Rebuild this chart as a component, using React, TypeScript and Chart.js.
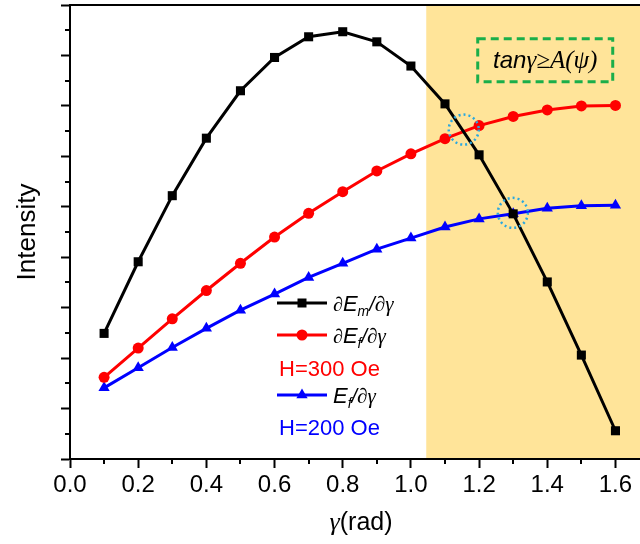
import React, { useEffect, useRef } from 'react';
import { Chart, registerables } from 'chart.js';

Chart.register(...registerables);

// ---- data ----
const gamma = [0.1, 0.2, 0.3, 0.4, 0.5, 0.6, 0.7, 0.8, 0.9, 1.0, 1.1, 1.2, 1.3, 1.4, 1.5, 1.6];
const emValues = [2.49, 3.91, 5.22, 6.36, 7.30, 7.96, 8.37, 8.47, 8.27, 7.79, 7.04, 6.03, 4.86, 3.51, 2.06, 0.56];
const ef300Values = [1.62, 2.20, 2.78, 3.34, 3.88, 4.40, 4.87, 5.30, 5.71, 6.05, 6.35, 6.61, 6.79, 6.92, 7.00, 7.01];
const ef200Values = [1.41, 1.81, 2.21, 2.59, 2.95, 3.27, 3.60, 3.88, 4.16, 4.38, 4.60, 4.76, 4.86, 4.97, 5.02, 5.03];

const xMin = 0;
const xMax = 1.672;
const yMin = 0;
const yMax = 9;
const shadeStart = 1.045;
const boxX = [1.196, 1.592];
const boxY = [7.48, 8.33];
const crossX = [1.155, 1.299];
const crossY = [6.53, 4.88];

const SANS = "'Liberation Sans', Arial, sans-serif";
const SERIF = "'Liberation Serif', 'Times New Roman', serif";

const toPoints = (ys: number[]) => gamma.map((g, i) => ({ x: g, y: ys[i] }));

const isMajorX = (v: number) => Math.round(v * 10) % 2 === 0;
const isMajorY = (v: number) => Math.round(v * 2) % 2 === 0;

type Seg = { t: string; font: string; dy?: number };

function drawSegs(ctx: CanvasRenderingContext2D, x: number, y: number, segs: Seg[], color: string) {
  ctx.save();
  ctx.fillStyle = color;
  ctx.textBaseline = 'alphabetic';
  ctx.textAlign = 'left';
  let cx = x;
  for (const s of segs) {
    ctx.font = s.font;
    ctx.fillText(s.t, cx, y + (s.dy || 0));
    cx += ctx.measureText(s.t).width;
  }
  ctx.restore();
}

function segsWidth(ctx: CanvasRenderingContext2D, segs: Seg[]) {
  let w = 0;
  ctx.save();
  for (const s of segs) {
    ctx.font = s.font;
    w += ctx.measureText(s.t).width;
  }
  ctx.restore();
  return w;
}

function marker(ctx: CanvasRenderingContext2D, kind: string, x: number, y: number, color: string) {
  ctx.save();
  ctx.fillStyle = color;
  ctx.beginPath();
  if (kind === 'rect') {
    ctx.rect(x - 4.5, y - 4.5, 9, 9);
  } else if (kind === 'circle') {
    ctx.arc(x, y, 5.5, 0, Math.PI * 2);
  } else {
    const r = 6.5;
    ctx.moveTo(x, y - r);
    ctx.lineTo(x + r * Math.sin((2 * Math.PI) / 3), y + r * 0.5);
    ctx.lineTo(x - r * Math.sin((2 * Math.PI) / 3), y + r * 0.5);
    ctx.closePath();
  }
  ctx.fill();
  ctx.restore();
}

const overlayPlugin = {
  id: 'overlay',
  beforeDraw(chart: any) {
    const { ctx, chartArea, scales } = chart;
    const x0 = scales.x.getPixelForValue(shadeStart);
    ctx.save();
    ctx.fillStyle = '#FFE499';
    ctx.fillRect(x0, chartArea.top, chart.width - x0, chartArea.bottom - chartArea.top);
    ctx.restore();
  },
  afterDatasetsDraw(chart: any) {
    const { ctx, chartArea, scales } = chart;
    const xs = scales.x;
    const ys = scales.y;
    ctx.save();
    // top frame line
    ctx.strokeStyle = '#000';
    ctx.lineWidth = 2;
    ctx.beginPath();
    ctx.moveTo(chartArea.left, chartArea.top);
    ctx.lineTo(chart.width, chartArea.top);
    ctx.stroke();

    // minor ticks
    ctx.lineWidth = 2;
    for (const t of xs.ticks) {
      if (!isMajorX(t.value)) {
        const px = Math.round(xs.getPixelForValue(t.value));
        ctx.beginPath();
        ctx.moveTo(px, chartArea.bottom);
        ctx.lineTo(px, chartArea.bottom + 5);
        ctx.stroke();
      }
    }
    for (const t of ys.ticks) {
      if (!isMajorY(t.value)) {
        const py = Math.round(ys.getPixelForValue(t.value));
        ctx.beginPath();
        ctx.moveTo(chartArea.left - 5, py);
        ctx.lineTo(chartArea.left, py);
        ctx.stroke();
      }
    }

    // dashed green box
    const bx0 = xs.getPixelForValue(boxX[0]);
    const bx1 = xs.getPixelForValue(boxX[1]);
    const by0 = ys.getPixelForValue(boxY[1]);
    const by1 = ys.getPixelForValue(boxY[0]);
    ctx.strokeStyle = '#1AAE4A';
    ctx.lineWidth = 3;
    ctx.setLineDash([8, 5]);
    ctx.strokeRect(bx0, by0, bx1 - bx0, by1 - by0);
    ctx.setLineDash([]);
    const formula: Seg[] = [
      { t: 'tan', font: `italic 24px ${SANS}` },
      { t: 'γ≥A(ψ)', font: `italic 25px ${SERIF}` },
    ];
    const fw = segsWidth(ctx, formula);
    drawSegs(ctx, (bx0 + bx1) / 2 - fw / 2, (by0 + by1) / 2 + 8, formula, '#000');

    // dotted cyan circles
    ctx.strokeStyle = '#2AA8E0';
    ctx.lineWidth = 2.5;
    ctx.setLineDash([2, 3]);
    for (let i = 0; i < crossX.length; i++) {
      ctx.beginPath();
      ctx.arc(xs.getPixelForValue(crossX[i]), ys.getPixelForValue(crossY[i]), 15, 0, Math.PI * 2);
      ctx.stroke();
    }
    ctx.setLineDash([]);

    // legend
    const lx0 = 277;
    const lx1 = 327;
    const tx = 333;
    const rows = [
      { y: 303, color: '#000', kind: 'rect', sub: 'm', pre: '∂' },
      { y: 335, color: '#FF0000', kind: 'circle', sub: 'f', pre: '∂' },
      { y: 395, color: '#0000FF', kind: 'triangle', sub: 'f', pre: '' },
    ];
    for (const r of rows) {
      ctx.strokeStyle = r.color;
      ctx.lineWidth = 3;
      ctx.beginPath();
      ctx.moveTo(lx0, r.y);
      ctx.lineTo(lx1, r.y);
      ctx.stroke();
      marker(ctx, r.kind, (lx0 + lx1) / 2, r.y, r.color);
      const segs: Seg[] = [];
      if (r.pre) segs.push({ t: r.pre, font: `italic 20px ${SERIF}` });
      segs.push({ t: 'E', font: `italic 22px ${SANS}` });
      segs.push({ t: r.sub, font: `italic 14px ${SANS}`, dy: 5 });
      segs.push({ t: '/', font: `italic 20px ${SANS}` });
      segs.push({ t: '∂γ', font: `italic 21px ${SERIF}` });
      drawSegs(ctx, tx, r.y + 8, segs, '#000');
    }
    drawSegs(ctx, 279, 376, [{ t: 'H=300 Oe', font: `22px ${SANS}` }], '#FF0000');
    drawSegs(ctx, 279, 435, [{ t: 'H=200 Oe', font: `22px ${SANS}` }], '#0000FF');

    // x axis title
    const title: Seg[] = [
      { t: 'γ', font: `italic 26px ${SERIF}` },
      { t: '(rad)', font: `25px ${SANS}` },
    ];
    const tw = segsWidth(ctx, title);
    const cx = (chartArea.left + chartArea.right) / 2 + 6;
    drawSegs(ctx, cx - tw / 2, 530, title, '#000');
    ctx.restore();
  },
};

export default function App() {
  const canvasRef = useRef<HTMLCanvasElement | null>(null);

  useEffect(() => {
    const canvas = canvasRef.current;
    if (!canvas) return;
    const chart = new Chart(canvas, {
      type: 'line',
      data: {
        datasets: [
          {
            label: 'dEm',
            data: toPoints(emValues),
            borderColor: '#000000',
            backgroundColor: '#000000',
            borderWidth: 3,
            pointStyle: 'rect',
            pointRadius: 6.4,
            pointBorderWidth: 0,
            tension: 0,
          },
          {
            label: 'dEf300',
            data: toPoints(ef300Values),
            borderColor: '#FF0000',
            backgroundColor: '#FF0000',
            borderWidth: 3,
            pointStyle: 'circle',
            pointRadius: 5.5,
            pointBorderWidth: 0,
            tension: 0,
          },
          {
            label: 'dEf200',
            data: toPoints(ef200Values),
            borderColor: '#0000FF',
            backgroundColor: '#0000FF',
            borderWidth: 3,
            pointStyle: 'triangle',
            pointRadius: 6.5,
            pointBorderWidth: 0,
            tension: 0,
          },
        ],
      },
      options: {
        responsive: false,
        animation: false,
        devicePixelRatio: 1,
        layout: { autoPadding: false, padding: { top: 5, right: 0, left: 0, bottom: 0 } },
        plugins: {
          legend: { display: false },
          tooltip: { enabled: false },
        },
        scales: {
          x: {
            type: 'linear',
            position: 'bottom',
            min: xMin,
            max: xMax,
            afterFit: (s: any) => {
              s.height = 85;
              s.paddingLeft = 0;
              s.paddingRight = 0;
            },
            border: { color: '#000', width: 2 },
            grid: {
              drawOnChartArea: false,
              drawTicks: true,
              tickLength: 9,
              tickWidth: 2,
              tickColor: (c: any) => (c.tick && isMajorX(c.tick.value) ? '#000' : 'rgba(0,0,0,0)'),
            },
            ticks: {
              stepSize: 0.1,
              includeBounds: false,
              autoSkip: false,
              maxRotation: 0,
              minRotation: 0,
              padding: 3,
              color: '#000',
              font: { size: 24, family: SANS },
              callback: (v: any) => (isMajorX(Number(v)) ? Number(v).toFixed(1) : ''),
            },
          },
          y: {
            type: 'linear',
            min: yMin,
            max: yMax,
            afterFit: (s: any) => {
              s.width = 70;
              s.paddingTop = 0;
              s.paddingBottom = 0;
            },
            border: { color: '#000', width: 2 },
            grid: {
              drawOnChartArea: false,
              drawTicks: true,
              tickLength: 9,
              tickWidth: 2,
              tickColor: (c: any) => (c.tick && isMajorY(c.tick.value) ? '#000' : 'rgba(0,0,0,0)'),
            },
            ticks: {
              stepSize: 0.5,
              autoSkip: false,
              font: { size: 1 },
              callback: () => '',
            },
            title: {
              display: true,
              text: 'Intensity',
              color: '#000',
              font: { size: 26, family: SANS },
              padding: { top: 12, bottom: 0 },
            },
          },
        },
      },
      plugins: [overlayPlugin],
    } as any);
    return () => chart.destroy();
  }, []);

  return (
    <div style={{ position: 'absolute', left: 0, top: 0, width: 640, height: 544, background: '#fff' }}>
      <canvas ref={canvasRef} width={640} height={544} style={{ width: 640, height: 544, display: 'block' }} />
    </div>
  );
}
